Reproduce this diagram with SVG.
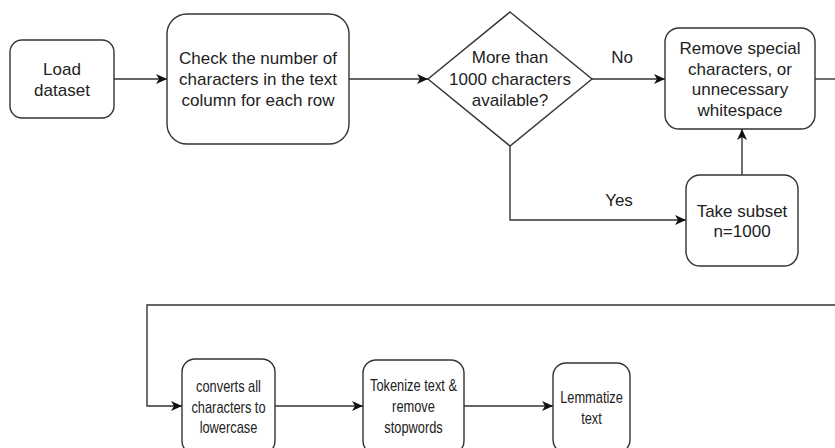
<svg xmlns="http://www.w3.org/2000/svg" width="835" height="448" viewBox="0 0 835 448">
<defs>
<style>
.box{fill:#fff;stroke:#333;stroke-width:1.4}
.lbl{font-family:"Liberation Sans",Arial,sans-serif;font-size:17px;fill:#222;text-anchor:middle}
.edge{fill:none;stroke:#333;stroke-width:1.4}
</style>
<marker id="arr" markerUnits="userSpaceOnUse" markerWidth="12" markerHeight="11" refX="11" refY="5" orient="auto" viewBox="0 0 12 11">
<path d="M0,0 L11,5 L0,10 L3,5 Z" fill="#111"/>
</marker>
</defs>
<rect width="835" height="448" fill="#fff"/>
<g id="connectors">
<path class="edge" d="M114,79 L167,79" marker-end="url(#arr)"/>
<path class="edge" d="M349,79 L428,79" marker-end="url(#arr)"/>
<path class="edge" d="M592,79 L665,79" marker-end="url(#arr)"/>
<path class="edge" d="M510,146 L510,220 L686,220" marker-end="url(#arr)"/>
<path class="edge" d="M742,175 L742,129" marker-end="url(#arr)"/>
<path class="edge" d="M815,79 L835,79"/>
<path class="edge" d="M835,305 L147,305 L147,406 L182,406" marker-end="url(#arr)"/>
<path class="edge" d="M275,406 L363,406" marker-end="url(#arr)"/>
<path class="edge" d="M464,406 L553,406" marker-end="url(#arr)"/>
<text class="lbl" x="622" y="63">No</text>
<text class="lbl" x="619" y="206">Yes</text>
</g>
<g id="load">
<rect class="box" x="10" y="40" width="104" height="78" rx="12"/>
<text class="lbl" x="62" y="75">Load</text>
<text class="lbl" x="62" y="96">dataset</text>
</g>
<g id="check">
<rect class="box" x="167" y="14" width="182" height="130" rx="20"/>
<text class="lbl" x="258" y="64">Check the number of</text>
<text class="lbl" x="258" y="85">characters in the text</text>
<text class="lbl" x="258" y="106">column for each row</text>
</g>
<g id="decision">
<path class="box" d="M510,12 L592,79 L510,146 L428,79 Z"/>
<text class="lbl" x="510" y="63">More than</text>
<text class="lbl" x="510" y="85">1000 characters</text>
<text class="lbl" x="510" y="106">available?</text>
</g>
<g id="remove">
<rect class="box" x="665" y="28" width="150" height="101" rx="14"/>
<text class="lbl" x="740" y="54">Remove special</text>
<text class="lbl" x="740" y="75">characters, or</text>
<text class="lbl" x="740" y="95">unnecessary</text>
<text class="lbl" x="740" y="116">whitespace</text>
</g>
<g id="subset">
<rect class="box" x="686" y="175" width="112" height="91" rx="14"/>
<text class="lbl" x="742" y="217">Take subset</text>
<text class="lbl" x="742" y="237">n=1000</text>
</g>
<g id="lowercase">
<rect class="box" x="182" y="359" width="93" height="95" rx="13"/>
<g transform="translate(228.5,0) scale(0.755,1)">
<text class="lbl" x="0" y="392">converts all</text>
<text class="lbl" x="0" y="413">characters to</text>
<text class="lbl" x="0" y="433">lowercase</text>
</g>
</g>
<g id="tokenize">
<rect class="box" x="363" y="360" width="101" height="94" rx="13"/>
<g transform="translate(413.5,0) scale(0.755,1)">
<text class="lbl" x="0" y="391">Tokenize text &amp;</text>
<text class="lbl" x="0" y="412">remove</text>
<text class="lbl" x="0" y="433">stopwords</text>
</g>
</g>
<g id="lemmatize">
<rect class="box" x="553" y="363" width="77" height="90" rx="13"/>
<g transform="translate(591.5,0) scale(0.755,1)">
<text class="lbl" x="0" y="403">Lemmatize</text>
<text class="lbl" x="0" y="424">text</text>
</g>
</g>
</svg>
